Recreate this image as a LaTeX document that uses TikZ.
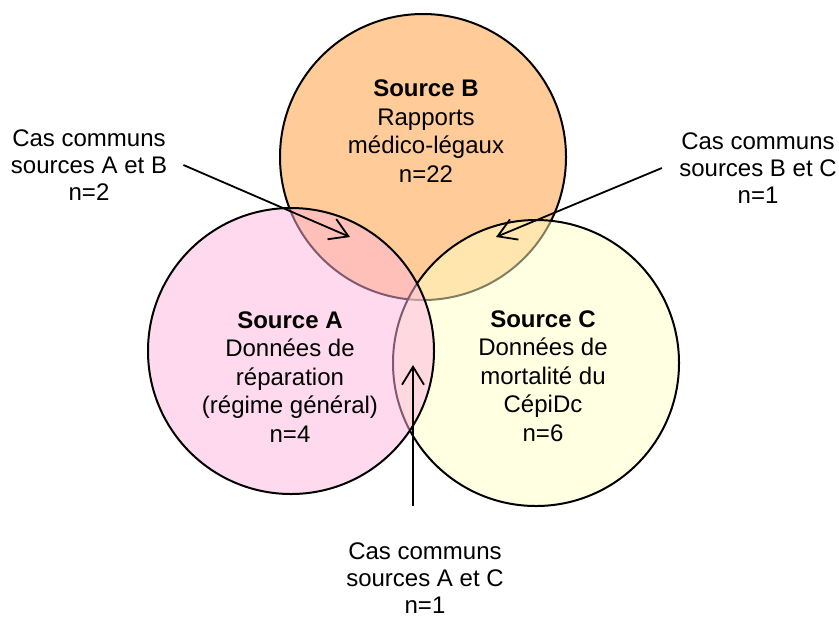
\documentclass[tikz,border=0pt]{standalone}
\usepackage{fontspec}
\setmainfont{Liberation Sans}
\usetikzlibrary{positioning,arrows.meta}
\definecolor{srcA}{RGB}{255,181,221}
\definecolor{srcB}{RGB}{255,153,51}
\definecolor{srcC}{RGB}{255,255,195}
\tikzset{
  setc/.style={draw=black,line width=1pt,fill opacity=0.5},
  txt/.style={align=center,font=\fontsize{12}{14.3}\selectfont,inner sep=2pt},
  lab/.style={align=center,font=\fontsize{12}{13.5}\selectfont,inner sep=1pt},
  arr/.style={-{Straight Barb[length=9pt,width=11pt]},line width=0.9pt},
}
\begin{document}
\begin{tikzpicture}[x=0.5pt,y=-0.5pt]
  \useasboundingbox (0,0) rectangle (839,617);
  % the three sources
  \draw[setc,fill=srcB] (423,157) circle[radius=71.5pt];
  \draw[setc,fill=srcC] (536,363) circle[radius=71.5pt];
  \draw[setc,fill=srcA] (291,351) circle[radius=71.5pt];
  \node[txt] (srcb) at (426,131) {\textbf{Source B}\\Rapports\\médico-légaux\\n=22};
  \node[txt] (srca) at (290,377) {\textbf{Source A}\\Données de\\réparation\\(régime général)\\n=4};
  \node[txt] (srcc) at (543,376) {\textbf{Source C}\\Données de\\mortalité du\\CépiDc\\n=6};
  % common cases
  \node[lab] (labAB) at (89,165) {Cas communs\\sources A et B\\n=2};
  \node[lab] (labBC) at (758,168) {Cas communs\\sources B et C\\n=1};
  \node[lab] (labAC) at (425,578) {Cas communs\\sources A et C\\n=1};
  \coordinate (tipAB) at (350,237);
  \coordinate (tipBC) at (496,237);
  \coordinate (tipAC) at (413,365);
  \draw[arr] ([xshift=7pt]labAB.east) -- (tipAB);
  \draw[arr] ([xshift=-7.5pt]labBC.west) -- (tipBC);
  \draw[arr] ([yshift=17pt]labAC.north -| tipAC) -- (tipAC);
\end{tikzpicture}
\end{document}
